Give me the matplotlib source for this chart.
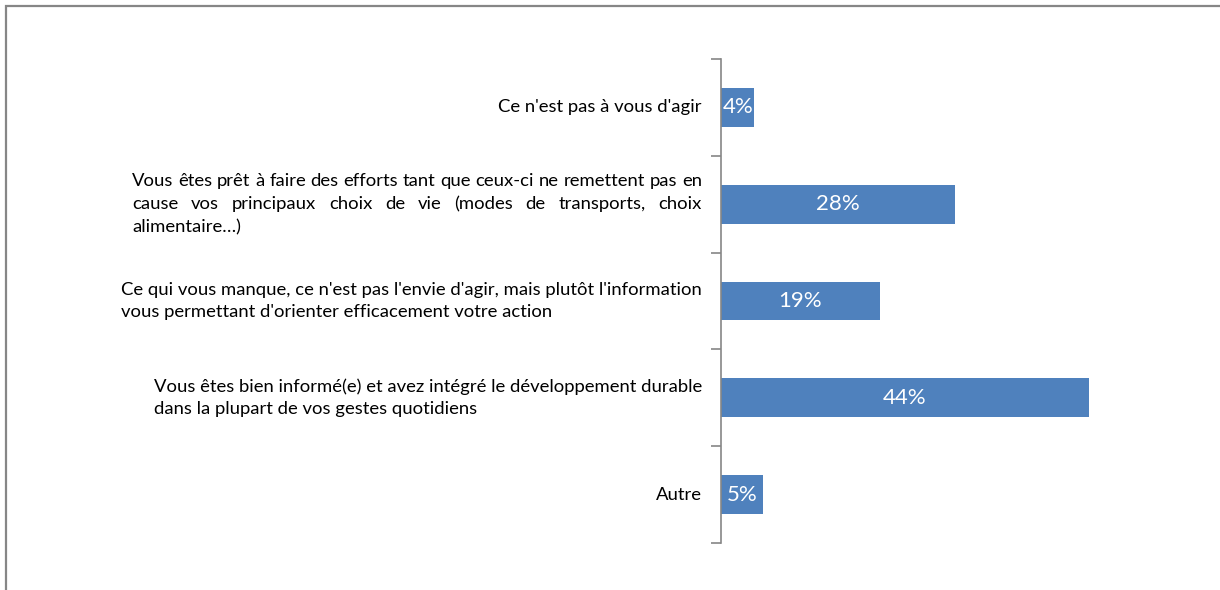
import matplotlib
matplotlib.use("Agg")
import matplotlib.pyplot as plt
from matplotlib.patches import Rectangle

plt.rcParams['font.family'] = ['Lato', 'DejaVu Sans']

# Donnees
categories = [
    "Ce n'est pas à vous d'agir",
    "Vous êtes prêt à faire des efforts tant que ceux-ci ne remettent pas en\ncause vos principaux choix de vie (modes de transports, choix\nalimentaire…)",
    "Ce qui vous manque, ce n'est pas l'envie d'agir, mais plutôt l'information\nvous permettant d'orienter efficacement votre action",
    "Vous êtes bien informé(e) et avez intégré le développement durable\ndans la plupart de vos gestes quotidiens",
    "Autre",
]
valeurs = [4, 28, 19, 44, 5]
etiquettes = ["4%", "28%", "19%", "44%", "5%"]
justifie = [False, True, False, False, False]

W, H = 1220, 590
fig = plt.figure(figsize=(W / 100, H / 100), dpi=100)
ax = fig.add_axes([721 / W, 47 / H, 492 / W, 484 / H])

# cadre gris autour du graphique
fig.patches.append(Rectangle((6 / W, -0.1), 1.2, 1.1 - 6 / H, transform=fig.transFigure,
                             fill=False, edgecolor="#868686", linewidth=1.6))

pos = list(range(len(valeurs)))
ax.barh(pos, valeurs, height=0.4, color="#4F81BD")
ax.set_xlim(0, 58.9)
ax.set_ylim(len(valeurs) - 0.5, -0.5)

for p, v, e in zip(pos, valeurs, etiquettes):
    ax.text(v / 2, p, e, ha="center", va="center", color="white", fontsize=16)

# axe vertical et graduations
for s in ["top", "right", "bottom"]:
    ax.spines[s].set_visible(False)
ax.spines["left"].set_color("#868686")
ax.spines["left"].set_linewidth(1.2)
ax.set_xticks([])
ax.set_yticks([])
ax.set_yticks([p - 0.5 for p in pos] + [pos[-1] + 0.5], minor=True)
ax.tick_params(axis="y", which="minor", length=7, color="#868686", width=1.2, labelleft=False)

fs = 13.3
ls = 1.5
x_right = 702
fig.canvas.draw()
r = fig.canvas.get_renderer()


def largeur(txt):
    t = fig.text(0, 0, txt, fontsize=fs)
    w = t.get_window_extent(r).width
    t.remove()
    return w


for p, cat, j in zip(pos, categories, justifie):
    y_px = ax.transData.transform((0, p))[1]
    if not j:
        ax.annotate(cat, xy=(x_right / W, y_px / H), xycoords="figure fraction",
                    ha="right", va="center", multialignment="left", fontsize=fs,
                    linespacing=ls, color="black")
        continue
    lignes = cat.split("\n")
    w_bloc = max(largeur(l) for l in lignes)
    x_left = x_right - w_bloc
    pas = 23
    y0 = y_px + pas * (len(lignes) - 1) / 2
    for i, l in enumerate(lignes):
        y = y0 - i * pas
        mots = l.split(" ")
        if i == len(lignes) - 1 or len(mots) == 1:
            fig.text(x_left / W, y / H, l, ha="left", va="center", fontsize=fs, color="black")
            continue
        lw = [largeur(m) for m in mots]
        esp = (w_bloc - sum(lw)) / (len(mots) - 1)
        x = x_left
        for m, w in zip(mots, lw):
            fig.text(x / W, y / H, m, ha="left", va="center", fontsize=fs, color="black")
            x += w + esp

fig.savefig("out.png", dpi=100)
